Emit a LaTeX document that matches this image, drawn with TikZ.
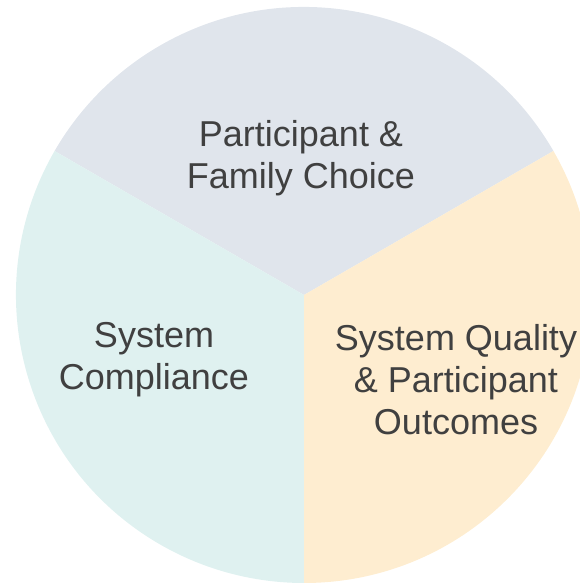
\documentclass[tikz,border=0pt]{standalone}
\usepackage{fontspec}
\setmainfont{Liberation Sans}
\definecolor{choicegray}{RGB}{224,229,236}
\definecolor{compliancecyan}{RGB}{223,241,240}
\definecolor{qualitypeach}{RGB}{254,237,208}
\definecolor{labelgray}{RGB}{64,64,64}
\begin{document}
\begin{tikzpicture}[x=1pt, y=1pt,
  zone/.style={align=center, text=labelgray, font=\fontsize{36}{42}\selectfont}]
\useasboundingbox (0,0) rectangle (580,583);
\clip (0,0) rectangle (580,583);
\coordinate (O) at (304,288);

\fill[choicegray] (O) -- ++(30:288) arc (30:150:288) -- cycle;
\node[zone] (choice) at (301,425) {Participant \&\\Family Choice};

\fill[compliancecyan] (O) -- ++(150:288) arc (150:270:288) -- cycle;
\node[zone] (compliance) at (154,223) {System\\Compliance};

\fill[qualitypeach] (O) -- ++(270:288) arc (270:390:288) -- cycle;
\node[zone] (quality) at (456,203) {System Quality\\\& Participant\\Outcomes};
\end{tikzpicture}
\end{document}
